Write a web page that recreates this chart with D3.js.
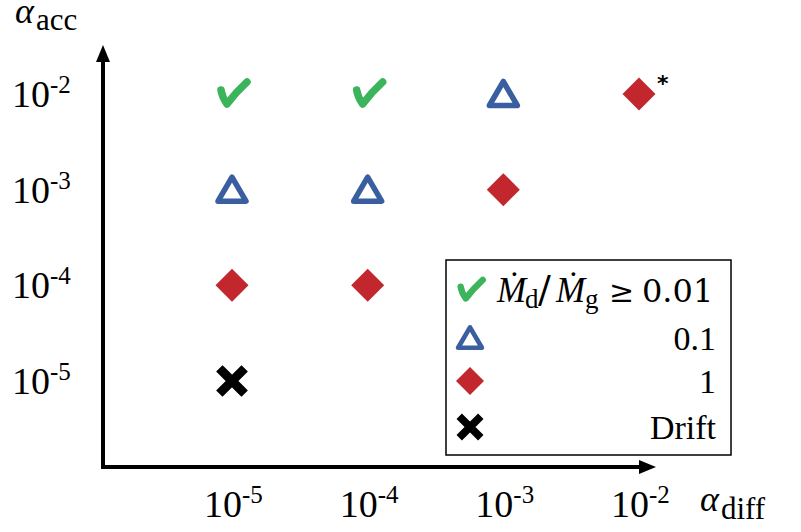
<!DOCTYPE html>
<html><head><meta charset="utf-8">
<script src="https://cdn.jsdelivr.net/npm/d3@7"></script>
<style>body{margin:0;background:#fff}svg{display:block}</style>
</head><body>
<script>
const diffTicks = [1e-5, 1e-4, 1e-3, 1e-2];
const accTicks = [1e-5, 1e-4, 1e-3, 1e-2];
const tickExp = ["-5", "-4", "-3", "-2"];
// points: alpha_diff, alpha_acc, class
const ptDiff = [1e-5, 1e-4, 1e-3, 1e-2, 1e-5, 1e-4, 1e-3, 1e-5, 1e-4, 1e-5];
const ptAcc  = [1e-2, 1e-2, 1e-2, 1e-2, 1e-3, 1e-3, 1e-3, 1e-4, 1e-4, 1e-5];
const ptCls  = ["check","check","tri","dia","tri","tri","dia","dia","dia","x"];
const ptStar = [false,false,false,true,false,false,false,false,false,false];
const legendCls = ["check","tri","dia","x"];
const legendLbl = ["ratio","0.1","1","Drift"];

const W = 801, H = 532;
const svg = d3.select("body").append("svg").attr("width", W).attr("height", H);
svg.append("rect").attr("width", W).attr("height", H).attr("fill", "#fff");

const x = d3.scaleLog().domain([1e-5, 1e-2]).range([232, 639]);
const y = d3.scaleLog().domain([1e-5, 1e-2]).range([381, 94]);

const serif = "'Liberation Serif','Times New Roman',serif";
const colors = {check: "#3bb45c", tri: "#3a5fa0", dia: "#c1272d", x: "#000"};

function marker(g, cls, s) {
  s = s || 1;
  if (cls === "check") {
    g.append("path")
      .attr("d", `M${-11*s},${-4*s} Q${-10*s},${3*s} ${-5*s},${10*s} Q${4*s},${-2*s} ${15*s},${-12*s}`)
      .attr("fill", "none").attr("stroke", colors.check)
      .attr("stroke-width", 7.5*s).attr("stroke-linecap", "round").attr("stroke-linejoin", "round");
  } else if (cls === "tri") {
    g.append("path").attr("d", d3.line()([[0,-12.5*s],[14*s,11.5*s],[-14*s,11.5*s]]) + "Z")
      .attr("fill", "none").attr("stroke", colors.tri).attr("stroke-width", 5.5*s)
      .attr("stroke-linejoin", "round");
  } else if (cls === "dia") {
    g.append("path").attr("d", d3.line()([[0,-16.5*s],[16.5*s,0],[0,16.5*s],[-16.5*s,0]]) + "Z")
      .attr("fill", colors.dia);
  } else {
    g.append("path").attr("d", `M${-9.5*s},${-9.5*s}L${9.5*s},${9.5*s}M${9.5*s},${-9.5*s}L${-9.5*s},${9.5*s}`)
      .attr("stroke", "#000").attr("stroke-width", 9*s).attr("stroke-linecap", "square");
  }
}

// axes
const ax = svg.append("g");
ax.append("line").attr("x1", 103).attr("x2", 103).attr("y1", 469).attr("y2", 58)
  .attr("stroke", "#000").attr("stroke-width", 4);
ax.append("path").attr("d", "M103,45L96,62L110,62Z").attr("fill", "#000");
ax.append("line").attr("x1", 101).attr("x2", 642).attr("y1", 467).attr("y2", 467)
  .attr("stroke", "#000").attr("stroke-width", 4);
ax.append("path").attr("d", "M656,467L639,460L639,474Z").attr("fill", "#000");

// y tick labels
accTicks.forEach((v, i) => {
  const t = svg.append("text").attr("x", 12).attr("y", y(v) + 13)
    .attr("font-family", serif).attr("font-size", 38).attr("fill", "#000");
  t.append("tspan").text("10");
  t.append("tspan").attr("font-size", 25).attr("dy", -14).text(tickExp[i]);
});
// x tick labels
diffTicks.forEach((v, i) => {
  const t = svg.append("text").attr("x", x(v) - 28).attr("y", 517)
    .attr("font-family", serif).attr("font-size", 38).attr("fill", "#000");
  t.append("tspan").text("10");
  t.append("tspan").attr("font-size", 25).attr("dy", -14).text(tickExp[i]);
});

// axis titles
const ty = svg.append("text").attr("x", 15).attr("y", 23).attr("font-family", serif).attr("fill", "#000");
ty.append("tspan").attr("font-style", "italic").attr("font-size", 36).text("α");
ty.append("tspan").attr("font-size", 31).attr("dx", 2).attr("dy", 7).text("acc");
const tx = svg.append("text").attr("x", 700).attr("y", 511).attr("font-family", serif).attr("fill", "#000");
tx.append("tspan").attr("font-style", "italic").attr("font-size", 36).text("α");
tx.append("tspan").attr("font-size", 31).attr("dx", 2).attr("dy", 8).text("diff");

// points
ptCls.forEach((c, i) => {
  const g = svg.append("g").attr("transform", `translate(${x(ptDiff[i])},${y(ptAcc[i])})`);
  marker(g, c);
  if (ptStar[i]) {
    g.append("text").attr("x", 18).attr("y", -3).attr("font-family", "'DejaVu Sans',sans-serif")
      .attr("font-size", 22).attr("font-weight", "bold").text("*");
  }
});

// legend
const lg = svg.append("g");
lg.append("rect").attr("x", 446).attr("y", 260).attr("width", 285).attr("height", 195)
  .attr("fill", "#fff").attr("stroke", "#000").attr("stroke-width", 1.5);
const rowY = [290, 338, 381, 427];
legendCls.forEach((c, i) => {
  const g = lg.append("g").attr("transform", `translate(470,${rowY[i]})`);
  marker(g, c, 0.85);
  if (legendLbl[i] === "ratio") {
    const t = lg.append("text").attr("y", rowY[i] + 12)
      .attr("font-family", serif).attr("font-size", 35).attr("fill", "#000");
    t.append("tspan").attr("x", 497).attr("font-style", "italic").text("Ṁ");
    t.append("tspan").attr("x", 525).attr("font-size", 27).attr("dy", 6).text("d");
    t.append("tspan").attr("x", 538).attr("dy", -6).attr("font-family", "'DejaVu Serif',serif")
      .attr("font-size", 38).text("/");
    t.append("tspan").attr("x", 556).attr("font-style", "italic").text("Ṁ");
    t.append("tspan").attr("x", 585).attr("font-size", 27).attr("dy", 6).text("g");
    t.append("tspan").attr("x", 609).attr("dy", -6).attr("font-family", "'DejaVu Serif',serif")
      .attr("font-size", 30).text("≥");
    t.append("tspan").attr("x", 642).attr("font-family", "'DejaVu Serif',serif")
      .attr("font-size", 32).text("0.01");
  } else {
    lg.append("text").attr("x", 716).attr("y", rowY[i] + 12).attr("text-anchor", "end")
      .attr("font-family", serif).attr("font-size", 34).attr("fill", "#000").text(legendLbl[i]);
  }
});
</script>
</body></html>
